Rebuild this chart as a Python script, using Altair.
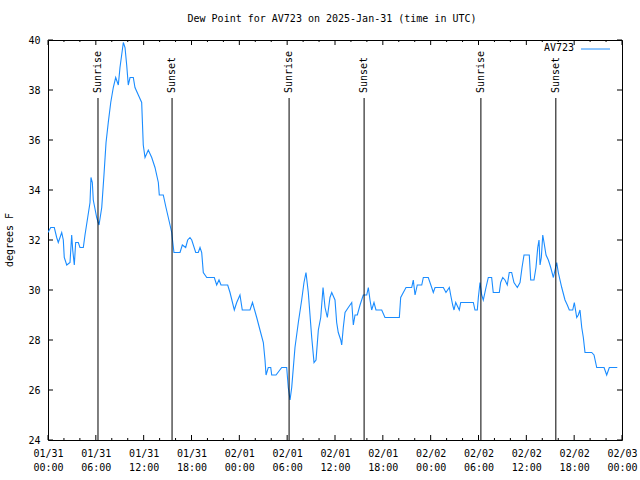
import altair as alt
import pandas as pd

# ---- data (hours after 2025-01-31 00:00 UTC, dew point in F) ----
hours = [0.0, 0.34, 0.79, 1.09, 1.29, 1.72, 1.92, 2.04, 2.35, 2.76, 2.97, 3.10, 3.30, 3.47, 3.80,
         4.01, 4.43, 4.64, 4.98, 5.27, 5.39, 5.56, 5.68, 6.11, 6.40, 6.74, 7.02, 7.28, 7.56, 7.87,
         8.19, 8.49, 8.82, 9.03, 9.24, 9.45, 9.66, 9.87, 10.07, 10.29, 10.70, 10.91, 11.33, 11.75,
         11.95, 12.17, 12.58, 13.01, 13.42, 13.84, 13.96, 14.46, 14.80, 15.09, 15.52, 15.62, 15.80,
         15.93, 16.56, 16.85, 17.27, 17.52, 17.81, 18.03, 18.53, 18.85, 19.07, 19.28, 19.48, 19.91,
         20.86, 21.16, 21.45, 21.70, 22.54, 22.83, 23.37, 23.67, 24.08, 24.37, 25.34, 25.65, 26.18,
         26.59, 27.01, 27.22, 27.35, 27.63, 27.94, 28.06, 28.60, 29.32, 29.94, 30.14, 30.36, 30.57,
         30.98, 31.40, 31.82, 32.11, 32.36, 32.65, 33.08, 33.37, 33.62, 33.91, 34.21, 34.50, 34.75,
         35.04, 35.37, 35.59, 36.00, 36.21, 36.41, 36.72, 36.84, 37.04, 37.26, 37.67, 38.10, 38.30,
         38.51, 38.80, 39.14, 39.55, 39.98, 40.18, 40.39, 40.60, 40.89, 41.14, 41.86, 42.27, 44.07,
         44.24, 44.57, 44.91, 45.62, 45.82, 46.04, 46.32, 46.88, 47.08, 47.70, 48.13, 48.33, 48.55,
         49.59, 49.92, 50.34, 50.51, 50.76, 50.93, 51.14, 51.59, 51.77, 53.35, 53.56, 53.85, 53.98,
         54.19, 54.40, 54.60, 54.94, 55.23, 55.65, 55.85, 56.61, 56.78, 57.04, 57.32, 57.61, 57.86,
         58.16, 58.45, 58.87, 59.21, 59.46, 59.71, 60.37, 60.55, 60.96, 61.21, 61.43, 61.59, 61.72,
         61.88, 62.06, 62.22, 62.47, 62.76, 63.06, 63.39, 63.60, 63.81, 64.01, 64.44, 64.85, 65.14,
         65.39, 65.82, 66.02, 66.32, 66.52, 66.73, 66.95, 67.15, 67.36, 68.20, 68.49, 68.83, 69.75,
         70.08, 70.41, 71.41]
dewpoint = [32.3, 32.5, 32.5, 32.1, 31.9, 32.3, 32.0, 31.3, 31.0, 31.1, 32.2, 31.6, 31.0, 31.9, 31.9,
            31.7, 31.7, 32.2, 32.9, 33.5, 34.5, 34.3, 33.6, 32.9, 32.6, 33.3, 34.6, 35.9, 36.7, 37.5,
            38.1, 38.5, 38.2, 38.9, 39.4, 39.9, 39.7, 39.0, 38.2, 38.5, 38.5, 38.1, 37.8, 37.5,
            35.8, 35.3, 35.6, 35.3, 34.9, 34.3, 33.8, 33.8, 33.3, 32.9, 32.3, 32.0, 31.5,
            31.5, 31.5, 31.8, 31.7, 32.0, 32.1, 32.0, 31.5, 31.5, 31.7, 31.5, 30.7, 30.5,
            30.5, 30.2, 30.4, 30.2, 30.2, 29.9, 29.2, 29.5, 29.8, 29.2, 29.2, 29.5, 28.9,
            28.4, 27.9, 27.2, 26.6, 26.9, 26.9, 26.6, 26.6, 26.9, 26.9, 26.1, 25.6, 26.1,
            27.7, 28.7, 29.6, 30.3, 30.7, 29.9, 28.1, 27.1, 27.2, 28.4, 28.9, 30.1, 29.3,
            28.9, 29.7, 29.9, 29.6, 28.7, 28.3, 28.0, 27.8, 28.5, 29.1, 29.3, 29.5, 28.6,
            29.0, 29.0, 29.4, 29.8, 29.8, 30.1, 29.6, 29.2, 29.5, 29.2, 29.2, 28.9, 28.9,
            29.7, 29.9, 30.1, 30.1, 30.4, 29.8, 30.2, 30.2, 30.5, 30.5, 30.1, 29.9, 30.1,
            30.1, 29.9, 30.1, 29.8, 29.4, 29.2, 29.5, 29.2, 29.5, 29.5, 29.2, 29.2, 29.7,
            30.3, 29.8, 29.6, 30.1, 30.5, 30.5, 29.9, 29.9, 30.3, 30.5, 30.4, 30.2, 30.7,
            30.7, 30.3, 30.1, 30.3, 30.9, 31.4, 31.4, 30.4, 30.4, 30.9, 31.7, 32.0, 31.0,
            31.3, 32.2, 31.9, 31.4, 31.2, 30.9, 30.5, 30.8, 31.1, 30.7, 30.1, 29.6, 29.4,
            29.2, 29.2, 29.5, 28.9, 29.0, 29.2, 28.5, 28.1, 27.5, 27.5, 27.4, 26.9, 26.9,
            26.6, 26.9, 26.9]

sun_hours = [6.27, 15.56, 30.24, 39.65, 54.30, 63.70]
sun_labels = ["Sunrise", "Sunset", "Sunrise", "Sunset", "Sunrise", "Sunset"]

major_tick_hours = list(range(0, 73, 6))
minor_tick_hours = [h for h in range(0, 73, 2) if h % 6 != 0]
y_ticks = [24, 26, 28, 30, 32, 34, 36, 38, 40]

series_name = "AV723"
title_text = "Dew Point for AV723 on 2025-Jan-31 (time in UTC)"

# ---- helpers ----
start = pd.Timestamp("2025-01-31T00:00:00", tz="UTC")


def iso(h):
    return (start + pd.Timedelta(hours=h)).strftime("%Y-%m-%dT%H:%M:%SZ")


def ms(h):
    return int((start + pd.Timedelta(hours=h)).value // 1_000_000)


df = pd.DataFrame({"t": [iso(h) for h in hours], "v": dewpoint})
sun_df = pd.DataFrame({"t": [iso(h) for h in sun_hours], "label": sun_labels})
major_df = pd.DataFrame({"t": [iso(h) for h in major_tick_hours]})
minor_df = pd.DataFrame({"t": [iso(h) for h in minor_tick_hours]})
yt_df = pd.DataFrame({"v": y_ticks})
one = pd.DataFrame({"k": [0]})

FONT = "DejaVu Sans Mono"
LINE_COLOR = "#1a8cff"

x_scale = alt.Scale(type="utc", domain=[ms(0), ms(72)])
y_scale = alt.Scale(domain=[24, 40], nice=False, zero=False)

x_axis = alt.Axis(
    values=[ms(h) for h in major_tick_hours],
    labelExpr="[utcFormat(datum.value, '%m/%d'), utcFormat(datum.value, '%H:%M')]",
    ticks=False, domain=False, grid=False, title=None, tickSize=0,
    labelPadding=8, labelLineHeight=14, labelOverlap=False, labelFlush=False,
    labelAlign="center", labelBaseline="top",
)
y_axis = alt.Axis(values=y_ticks, ticks=False, domain=False, grid=False, title=None,
                  tickSize=0, labelPadding=8, labelOverlap=False, labelFlush=False)

line = alt.Chart(df).mark_line(color=LINE_COLOR, strokeWidth=1.1, clip=True).encode(
    x=alt.X("t:T", scale=x_scale, axis=x_axis),
    y=alt.Y("v:Q", scale=y_scale, axis=y_axis),
)

sun_rules = alt.Chart(sun_df).mark_rule(color="black", strokeWidth=1).encode(
    x=alt.X("t:T", scale=x_scale),
    y=alt.value(58), y2=alt.value(400),
)
sun_text = alt.Chart(sun_df).mark_text(
    angle=270, align="left", baseline="middle", font=FONT, fontSize=10, color="black"
).encode(x=alt.X("t:T", scale=x_scale), y=alt.value(53), text="label:N")

bot_major = alt.Chart(major_df).mark_rule(color="black").encode(
    x=alt.X("t:T", scale=x_scale), y=alt.value(400), y2=alt.value(395))
top_major = alt.Chart(major_df).mark_rule(color="black").encode(
    x=alt.X("t:T", scale=x_scale), y=alt.value(0), y2=alt.value(5))
bot_minor = alt.Chart(minor_df).mark_rule(color="black").encode(
    x=alt.X("t:T", scale=x_scale), y=alt.value(400), y2=alt.value(398))
top_minor = alt.Chart(minor_df).mark_rule(color="black").encode(
    x=alt.X("t:T", scale=x_scale), y=alt.value(0), y2=alt.value(2))
left_ticks = alt.Chart(yt_df).mark_rule(color="black").encode(
    y=alt.Y("v:Q", scale=y_scale), x=alt.value(0), x2=alt.value(5))
right_ticks = alt.Chart(yt_df).mark_rule(color="black").encode(
    y=alt.Y("v:Q", scale=y_scale), x=alt.value(574), x2=alt.value(569))

legend_text = alt.Chart(one).mark_text(
    align="right", baseline="middle", font=FONT, fontSize=10, color="black", text=series_name
).encode(x=alt.value(526), y=alt.value(8))
legend_line = alt.Chart(one).mark_rule(color=LINE_COLOR, strokeWidth=1).encode(
    x=alt.value(533), x2=alt.value(562), y=alt.value(9))

title = alt.Chart(one).mark_text(
    align="center", baseline="middle", font=FONT, fontSize=10, color="black", text=title_text
).encode(x=alt.value(284), y=alt.value(-21))
ytitle = alt.Chart(one).mark_text(
    angle=270, align="center", baseline="middle", font=FONT, fontSize=10, color="black",
    text="degrees F"
).encode(x=alt.value(-38), y=alt.value(200))

chart = alt.layer(
    line, sun_rules, sun_text, bot_major, top_major, bot_minor, top_minor,
    left_ticks, right_ticks, legend_text, legend_line, title, ytitle
).properties(
    width=574, height=400,
    autosize=alt.AutoSizeParams(type="none"),
    padding={"left": 48, "top": 40, "right": 18, "bottom": 40},
    background="white",
).configure_view(
    stroke="black", strokeWidth=1
).configure_axis(
    labelFont=FONT, labelFontSize=10, labelColor="black"
)

chart.save("out.html", embed_options={"renderer": "svg", "actions": False})
